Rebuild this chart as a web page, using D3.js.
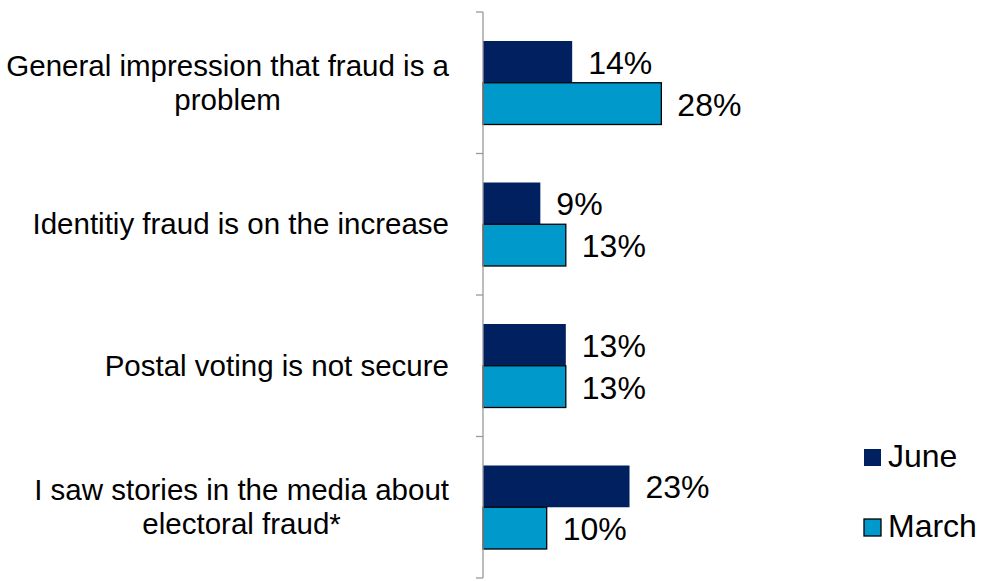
<!DOCTYPE html>
<html>
<head>
<meta charset="utf-8">
<script src="https://cdn.jsdelivr.net/npm/d3@7"></script>
<style>
  html, body { margin: 0; padding: 0; background: #fff; }
  svg { display: block; font-family: "Liberation Sans", Arial, sans-serif; }
</style>
</head>
<body>
<svg id="chart" width="981" height="581"></svg>
<script>
// Reasons given for thinking electoral fraud is a problem
const categories = [
  ["General impression that fraud is a", "problem"],
  ["Identitiy fraud is on the increase"],
  ["Postal voting is not secure"],
  ["I saw stories in the media about", "electoral fraud*"]
];
const seriesNames = ["June", "March"];
const juneValues = [0.14, 0.09, 0.13, 0.23];
const marchValues = [0.28, 0.13, 0.13, 0.10];
const colors = { June: "#002060", March: "#0099CC" };

const svg = d3.select("#chart");
const catFont = 29.5;
const valFont = 32;

const axisX = 483;
const y = d3.scaleBand()
  .domain(d3.range(categories.length))
  .range([12, 578]);

const x = d3.scaleLinear().domain([0, 1]).range([axisX, axisX + 637]);

// Each category band holds two bars with wide gaps above and below
const barGap = 29;
const inner = d3.scaleBand()
  .domain(seriesNames)
  .range([barGap, y.bandwidth() - barGap]);

const rows = categories.map((c, i) => ({
  i, label: c, June: juneValues[i], March: marchValues[i]
}));

// Bars
const groups = svg.append("g").selectAll("g")
  .data(rows).join("g")
  .attr("transform", d => `translate(0,${y(d.i)})`);

groups.selectAll("rect")
  .data(d => seriesNames.map(s => ({ s, v: d[s] })))
  .join("rect")
  .attr("x", x(0))
  .attr("y", d => inner(d.s))
  .attr("width", d => x(d.v) - x(0))
  .attr("height", inner.bandwidth())
  .attr("fill", d => colors[d.s])
  .attr("stroke", d => d.s === "March" ? "#000" : "none")
  .attr("stroke-width", 1.3);

// Value labels
groups.selectAll("text")
  .data(d => seriesNames.map(s => ({ s, v: d[s] })))
  .join("text")
  .attr("x", d => x(d.v) + 16)
  .attr("y", d => inner(d.s) + inner.bandwidth() / 2 + 12)
  .attr("font-size", valFont)
  .attr("fill", "#000")
  .text(d => d3.format(".0%")(d.v));

// Category axis
const axis = svg.append("g")
  .attr("transform", `translate(${axisX},0)`);
axis.append("line")
  .attr("y1", y.range()[0]).attr("y2", y.range()[1])
  .attr("stroke", "#999").attr("stroke-width", 1.3);
const tickPos = y.domain().map(d => y(d)).concat([y.range()[1]]);
axis.selectAll("line.tick")
  .data(tickPos).join("line")
  .attr("class", "tick")
  .attr("x1", -7).attr("x2", 0)
  .attr("y1", d => d).attr("y2", d => d)
  .attr("stroke", "#999").attr("stroke-width", 1.3);

// Category labels: centred lines, block right-aligned to the axis
const labelRight = 449;
const lineGap = 34;
rows.forEach(r => {
  const g = svg.append("g");
  const cy = y(r.i) + y.bandwidth() / 2;
  const n = r.label.length;
  const texts = r.label.map((line, k) => g.append("text")
    .attr("font-size", catFont)
    .attr("fill", "#000")
    .attr("text-anchor", "middle")
    .attr("y", cy + (k - (n - 1) / 2) * lineGap + 10)
    .text(line));
  const w = d3.max(texts, t => t.node().getComputedTextLength());
  texts.forEach(t => t.attr("x", labelRight - w / 2));
});

// Legend
const legend = svg.append("g");
const legendY = { June: 449, March: 519 };
seriesNames.forEach(s => {
  legend.append("rect")
    .attr("x", 864).attr("y", legendY[s])
    .attr("width", 17).attr("height", 17)
    .attr("fill", colors[s])
    .attr("stroke", s === "March" ? "#000" : "none")
    .attr("stroke-width", 1.3);
  legend.append("text")
    .attr("x", 888).attr("y", legendY[s] + 18)
    .attr("font-size", valFont)
    .attr("fill", "#000")
    .text(s);
});
</script>
</body>
</html>
